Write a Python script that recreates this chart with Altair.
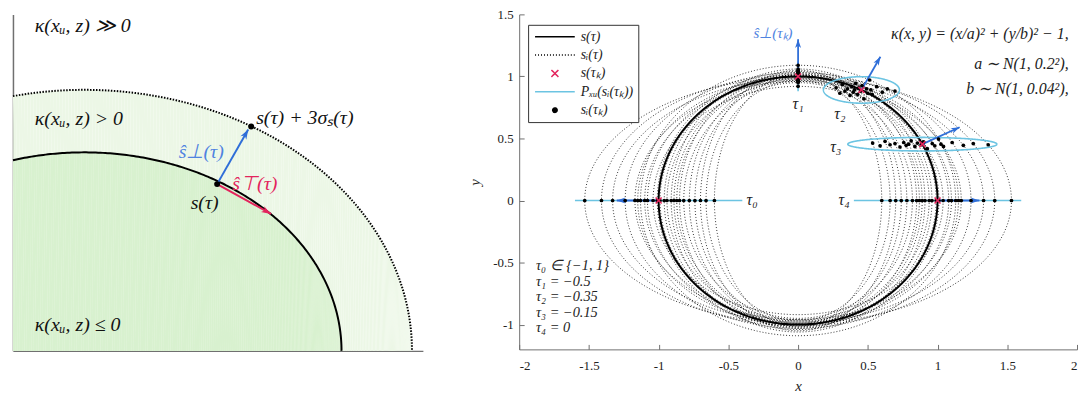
import altair as alt
import numpy as np
import pandas as pd

# ---------------- data ----------------
# right panel: sampled ellipse parameters a_i ~ N(1,0.2^2), b_i ~ N(1,0.04^2)
a_samples = [0.60, 0.66, 0.70, 0.74, 0.78, 0.82, 0.85, 0.87, 0.89, 0.91, 0.94, 0.96,
             0.99, 1.01, 1.04, 1.08, 1.10, 1.13, 1.15, 1.17, 1.24, 1.33, 1.41, 1.53]
b_samples = [1.02, 0.97, 1.05, 0.99, 1.01, 0.95, 1.03, 0.98, 1.00, 1.06, 0.96, 1.02,
             0.99, 1.04, 0.92, 1.01, 0.97, 1.09, 1.00, 0.96, 1.03, 0.98, 1.01, 0.99]
sigma_a, sigma_b = 0.2, 0.04
tau_k = [-1.0, -0.5, -0.35, -0.15, 0.0]
tau_names = ["τ₀", "τ₁", "τ₂", "τ₃", "τ₄"]
tau_label_x = [-0.33, 0.0, 0.30, 0.27, 0.33]
tau_label_y = [0.0, 0.78, 0.70, 0.43, 0.0]
normal_len = 0.3

formula_lines = ["κ(x, y) = (x/a)² + (y/b)² − 1,", "a ∼ N(1, 0.2²),", "b ∼ N(1, 0.04²),"]
formula_y = [1.34, 1.10, 0.90]
tau_values_lines = ["τ₀ ∈ {−1, 1}", "τ₁ = −0.5", "τ₂ = −0.35", "τ₃ = −0.15", "τ₄ = 0"]
tau_values_y = [-0.53, -0.655, -0.78, -0.905, -1.03]

legend_labels = ["s(τ)", "sᵢ(τ)", "s(τₖ)", "Pₓᵤ(sᵢ(τₖ))", "sᵢ(τₖ)"]

x_ticks = [-2, -1.5, -1, -0.5, 0, 0.5, 1, 1.5, 2]
y_ticks = [-1, -0.5, 0, 0.5, 1, 1.5]

# left panel (schematic), units = pixels of the panel
inner_center_x, inner_A, inner_B = 72, 259, 200
outer_A, outer_B = 330, 263
s_point = [205.7, 168.0]
s3_point = [240.0, 226.0]
perp_tip = [237.0, 223.0]
tang_tip = [260.0, 138.0]
left_texts = ["κ(xᵤ, z) ≫ 0", "κ(xᵤ, z) > 0", "κ(xᵤ, z) ≤ 0", "s(τ) + 3σₛ(τ)", "ŝ⊥(τ)", "ŝ⊤(τ)", "s(τ)"]
left_text_x = [22, 22, 22, 245, 167, 221, 179]
left_text_y = [327, 234, 26, 235, 200, 168, 149]
left_text_kind = ["k", "k", "k", "k", "b", "r", "k"]

# ---------------- styling ----------------
SERIF = "Liberation Serif"
RED = "#e3245c"
BLUE = "#2f6ed8"
BLUE_TXT = "#4f83e0"
CYAN = "#6cc4e2"
LIGHT_G = "#ecf7e6"
DARK_G = "#d8f1cf"
AX = "#707070"

W_L, H_L = 413, 339
W_R, H_R = 562, 337.5
XD, YD = [-2, 2], [-1.2, 1.5]
pxx = W_R / (XD[1] - XD[0])
pxy = H_R / (YD[1] - YD[0])

ARROW = "M0,0L-0.55,1.6L0,1.15L0.55,1.6Z"
CROSS = "M-1,-1L1,1M1,-1L-1,1"
LINE = "M-1,0L7,0"
LCROSS = "M2.3,-0.7L3.7,0.7M3.7,-0.7L2.3,0.7"
LDOT = "M3.45,0A0.45,0.45,0,1,1,2.55,0A0.45,0.45,0,1,1,3.45,0Z"


def ang(dx_px, dy_px_up):
    return float(np.degrees(np.arctan2(dx_px, dy_px_up)) % 360)


# ---------------- right panel tables ----------------
t = np.linspace(0, 2 * np.pi, 361)
ell = pd.DataFrame([dict(sample=i, order=j, x=a * np.cos(tt), y=b * np.sin(tt))
                    for i, (a, b) in enumerate(zip(a_samples, b_samples)) for j, tt in enumerate(t)])
circ = pd.DataFrame(dict(order=range(len(t)), x=np.cos(t), y=np.sin(t)))

theta = [-np.pi * tk for tk in tau_k]
proj_rows, arr_rows, dot_rows, mark_rows = [], [], [], []
for k, th in enumerate(theta):
    c, s = np.cos(th), np.sin(th)
    hx, hy = 3 * sigma_a * abs(c), 3 * sigma_b * abs(s)
    for j, tt in enumerate(t):
        proj_rows.append(dict(k=k, order=j, x=c + hx * np.cos(tt), y=s + hy * np.sin(tt)))
    arr_rows.append(dict(k=k, x=c, y=s, x2=c + normal_len * c, y2=s + normal_len * s,
                         ang=ang(c * pxx, s * pxy)))
    mark_rows.append(dict(k=k, x=c, y=s))
    for a, b in zip(a_samples, b_samples):
        dot_rows.append(dict(k=k, x=a * c, y=b * s))
proj = pd.DataFrame(proj_rows)
arrows = pd.DataFrame(arr_rows)
dots = pd.DataFrame(dot_rows)
marks = pd.DataFrame(mark_rows)
tau_lab = pd.DataFrame(dict(name=tau_names, x=tau_label_x, y=tau_label_y))
formula = pd.DataFrame(dict(txt=formula_lines, y=formula_y))
tvals = pd.DataFrame(dict(txt=tau_values_lines, y=tau_values_y))
leg_df = pd.DataFrame(dict(name=legend_labels))

xs = alt.Scale(domain=XD, nice=False, zero=False)
ys = alt.Scale(domain=YD, nice=False, zero=False)

lab_expr = "(datum.value < 0 ? '-' : '') + format(abs(datum.value), '~g')"
x_main = alt.Axis(values=x_ticks, ticks=False, grid=False, domainColor=AX, labelExpr=lab_expr,
                  labelFont=SERIF, labelFontSize=13, labelColor="#222", labelPadding=10,
                  title="x", titleFont=SERIF, titleFontStyle="italic", titleFontWeight="normal",
                  titleFontSize=15, titleColor="#222", titlePadding=6)
y_main = alt.Axis(values=y_ticks, ticks=False, grid=False, domainColor=AX, labelExpr=lab_expr,
                  labelFont=SERIF, labelFontSize=13, labelColor="#222", labelPadding=6,
                  title="y", titleFont=SERIF, titleFontStyle="italic", titleFontWeight="normal",
                  titleFontSize=15, titleColor="#222", titlePadding=10)
x_tick = alt.Axis(orient="bottom", values=x_ticks, domain=False, labels=False, ticks=True,
                  tickSize=5, tickColor=AX, offset=-5, grid=False, title=None)
y_tick = alt.Axis(orient="left", values=y_ticks, domain=False, labels=False, ticks=True,
                  tickSize=5, tickColor=AX, offset=-5, grid=False, title=None)

base = lambda df: alt.Chart(df)

l_ell = base(ell).mark_line(color="black", strokeWidth=0.8, strokeDash=[1, 2]).encode(
    x=alt.X("x:Q", scale=xs, axis=x_main), y=alt.Y("y:Q", scale=ys, axis=y_main),
    detail="sample:N", order="order:Q")
l_circ = base(circ).mark_line(color="black", strokeWidth=2).encode(
    x=alt.X("x:Q", scale=xs, axis=x_tick), y=alt.Y("y:Q", scale=ys, axis=y_tick), order="order:Q")
l_proj = base(proj).mark_line(color=CYAN, strokeWidth=1.6).encode(
    x=alt.X("x:Q", scale=xs, axis=None), y=alt.Y("y:Q", scale=ys, axis=None),
    detail="k:N", order="order:Q")
l_dots = base(dots).mark_point(filled=True, shape="circle", size=14, color="black", opacity=1).encode(
    x=alt.X("x:Q", scale=xs, axis=None), y=alt.Y("y:Q", scale=ys, axis=None))
l_shaft = base(arrows).mark_rule(color=BLUE, strokeWidth=1.8).encode(
    x=alt.X("x:Q", scale=xs, axis=None), y=alt.Y("y:Q", scale=ys, axis=None), x2="x2:Q", y2="y2:Q")
l_head = base(arrows).mark_point(filled=True, shape=ARROW, size=120, color=BLUE, opacity=1).encode(
    x=alt.X("x2:Q", scale=xs, axis=None), y=alt.Y("y2:Q", scale=ys, axis=None),
    angle=alt.Angle("ang:Q", scale=None))
l_marks = base(marks).mark_point(filled=False, shape=CROSS, size=36, stroke=RED, strokeWidth=1.6,
                                 opacity=1).encode(
    x=alt.X("x:Q", scale=xs, axis=None), y=alt.Y("y:Q", scale=ys, axis=None))
l_taulab = base(tau_lab).mark_text(font=SERIF, fontStyle="italic", fontSize=16, color="#222").encode(
    x=alt.X("x:Q", scale=xs, axis=None), y=alt.Y("y:Q", scale=ys, axis=None), text="name:N")
l_perp = base(pd.DataFrame(dict(txt=["ŝ⊥(τₖ)"], x=[-0.18], y=[1.35]))).mark_text(
    font=SERIF, fontStyle="italic", fontSize=15, color=BLUE_TXT).encode(
    x=alt.X("x:Q", scale=xs, axis=None), y=alt.Y("y:Q", scale=ys, axis=None), text="txt:N")
l_form = base(formula).mark_text(font=SERIF, fontStyle="italic", fontSize=16, color="#222",
                                 align="right").encode(
    x=alt.datum(1.94, scale=xs, axis=None), y=alt.Y("y:Q", scale=ys, axis=None), text="txt:N")
l_tvals = base(tvals).mark_text(font=SERIF, fontStyle="italic", fontSize=14.5, color="#222",
                                align="left").encode(
    x=alt.datum(-1.88, scale=xs, axis=None), y=alt.Y("y:Q", scale=ys, axis=None), text="txt:N")

leg = alt.Legend(orient="none", legendX=W_L + 97 + 9, legendY=10.5, title=None, padding=5,
                 strokeColor="#333", fillColor="white", labelFont=SERIF, labelFontStyle="italic",
                 labelFontSize=14, labelColor="#222", labelOffset=34, rowPadding=4.5,
                 symbolStrokeWidth=1.5, labelLimit=300)
l_leg = base(leg_df).mark_point(filled=True, fill="black", size=100, clip=True, opacity=1).encode(
    x=alt.value(-500), y=alt.value(-500),
    shape=alt.Shape("name:N", scale=alt.Scale(domain=legend_labels, range=[LINE, LINE, LCROSS, LINE, LDOT]),
                    legend=leg),
    stroke=alt.Stroke("name:N", scale=alt.Scale(domain=legend_labels,
                                                range=["black", "black", RED, CYAN, "black"]), legend=leg),
    strokeDash=alt.StrokeDash("name:N", scale=alt.Scale(domain=legend_labels,
                                                        range=[[1, 0], [1, 2], [1, 0], [1, 0], [1, 0]]),
                              legend=leg),
)

right = alt.layer(l_ell, l_circ, l_proj, l_shaft, l_head, l_dots, l_marks, l_taulab, l_perp,
                  l_form, l_tvals, l_leg).resolve_axis(x="independent", y="independent").properties(
    width=W_R, height=H_R)

# ---------------- left panel ----------------
def quarter(A, B, n=200):
    t0 = np.arccos(-inner_center_x / A)
    tt = np.linspace(t0, 0, n)
    return pd.DataFrame(dict(order=range(n), x=inner_center_x + A * np.cos(tt), y=B * np.sin(tt)))

outer = quarter(outer_A, outer_B)
inner = quarter(inner_A, inner_B)
lxs = alt.Scale(domain=[0, W_L], nice=False, zero=False)
lys = alt.Scale(domain=[0, H_L], nice=False, zero=False)
lx_ax = alt.Axis(domainColor=AX, ticks=False, labels=False, grid=False, title=None, domainWidth=1.5,
                 minExtent=0)
ly_ax = alt.Axis(domainColor=AX, ticks=False, labels=False, grid=False, title=None, domainWidth=1.5,
                 minExtent=0)

L_outer = alt.Chart(outer).mark_area(color=LIGHT_G, opacity=1).encode(
    x=alt.X("x:Q", scale=lxs, axis=lx_ax), y=alt.Y("y:Q", scale=lys, axis=ly_ax), order="order:Q")
L_inner = alt.Chart(inner).mark_area(color=DARK_G, opacity=1).encode(
    x=alt.X("x:Q", scale=lxs), y=alt.Y("y:Q", scale=lys), order="order:Q")
L_inline = alt.Chart(inner).mark_line(color="black", strokeWidth=2).encode(
    x=alt.X("x:Q", scale=lxs), y=alt.Y("y:Q", scale=lys), order="order:Q")
L_outline = alt.Chart(outer).mark_line(color="black", strokeWidth=2, strokeDash=[1.5, 1.5]).encode(
    x=alt.X("x:Q", scale=lxs), y=alt.Y("y:Q", scale=lys), order="order:Q")

larr = pd.DataFrame(dict(
    x=[s_point[0], s_point[0]], y=[s_point[1], s_point[1]],
    x2=[perp_tip[0], tang_tip[0]], y2=[perp_tip[1], tang_tip[1]],
    c=[BLUE, RED],
    ang=[ang(perp_tip[0] - s_point[0], perp_tip[1] - s_point[1]),
         ang(tang_tip[0] - s_point[0], tang_tip[1] - s_point[1])]))
L_shaft = alt.Chart(larr).mark_rule(strokeWidth=2).encode(
    x=alt.X("x:Q", scale=lxs), y=alt.Y("y:Q", scale=lys), x2="x2:Q", y2="y2:Q",
    color=alt.Color("c:N", scale=None))
L_head = alt.Chart(larr).mark_point(filled=True, shape=ARROW, size=150, opacity=1).encode(
    x=alt.X("x2:Q", scale=lxs), y=alt.Y("y2:Q", scale=lys), angle=alt.Angle("ang:Q", scale=None),
    color=alt.Color("c:N", scale=None))
lpts = pd.DataFrame(dict(x=[s_point[0], s3_point[0]], y=[s_point[1], s3_point[1]]))
L_pts = alt.Chart(lpts).mark_point(filled=True, shape="circle", size=36, color="black", opacity=1).encode(
    x=alt.X("x:Q", scale=lxs), y=alt.Y("y:Q", scale=lys))
ltx = pd.DataFrame(dict(txt=left_texts, x=left_text_x, y=left_text_y,
                        c=[{"k": "#111", "b": BLUE_TXT, "r": RED}[k] for k in left_text_kind]))
L_txt = alt.Chart(ltx).mark_text(font=SERIF, fontStyle="italic", fontSize=20, align="left").encode(
    x=alt.X("x:Q", scale=lxs), y=alt.Y("y:Q", scale=lys), text="txt:N",
    color=alt.Color("c:N", scale=None))

left = alt.layer(L_outer, L_inner, L_inline, L_outline, L_shaft, L_head, L_pts, L_txt).properties(
    width=W_L, height=H_L)

chart = alt.hconcat(left, right, spacing=97, bounds="flush").properties(
    padding={"left": 0, "top": -1, "right": 0, "bottom": -2}
).configure_view(stroke=None)

chart.save("out.html", embed_options={"renderer": "svg", "actions": False})
